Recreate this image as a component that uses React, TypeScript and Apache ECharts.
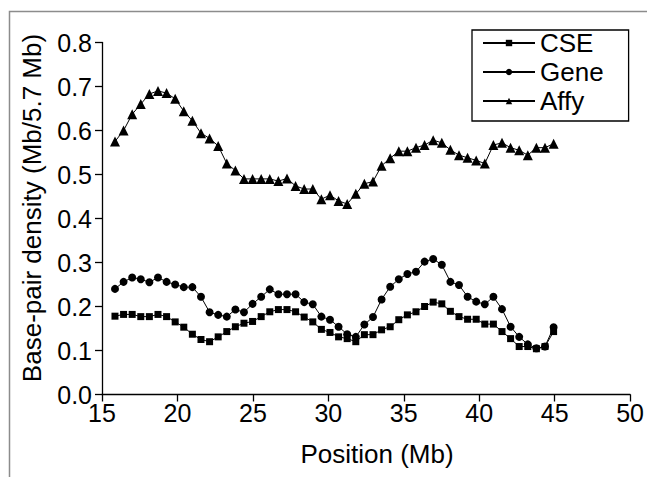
import React, { useEffect, useRef } from "react";
import * as echarts from "echarts";

const positions = [15.86, 16.43, 17.0, 17.57, 18.14, 18.71, 19.28, 19.85, 20.42, 20.99, 21.56, 22.13, 22.7, 23.27, 23.84, 24.41, 24.98, 25.55, 26.12, 26.69, 27.26, 27.83, 28.4, 28.97, 29.54, 30.11, 30.68, 31.25, 31.82, 32.39, 32.96, 33.53, 34.1, 34.67, 35.24, 35.81, 36.38, 36.95, 37.52, 38.09, 38.66, 39.23, 39.8, 40.37, 40.94, 41.51, 42.08, 42.65, 43.22, 43.79, 44.36, 44.93];

const cse = [0.178, 0.182, 0.182, 0.177, 0.177, 0.182, 0.177, 0.165, 0.153, 0.137, 0.125, 0.12, 0.131, 0.143, 0.154, 0.162, 0.166, 0.177, 0.188, 0.193, 0.193, 0.188, 0.176, 0.165, 0.148, 0.141, 0.131, 0.127, 0.12, 0.136, 0.136, 0.147, 0.154, 0.17, 0.181, 0.188, 0.2, 0.21, 0.206, 0.189, 0.177, 0.171, 0.171, 0.16, 0.16, 0.143, 0.127, 0.109, 0.109, 0.104, 0.109, 0.143];

const gene = [0.24, 0.256, 0.266, 0.262, 0.255, 0.266, 0.256, 0.25, 0.244, 0.244, 0.222, 0.187, 0.181, 0.177, 0.193, 0.187, 0.206, 0.222, 0.239, 0.228, 0.228, 0.228, 0.21, 0.205, 0.177, 0.17, 0.154, 0.137, 0.131, 0.159, 0.176, 0.216, 0.245, 0.262, 0.274, 0.279, 0.302, 0.308, 0.295, 0.256, 0.249, 0.222, 0.211, 0.205, 0.222, 0.194, 0.154, 0.131, 0.114, 0.105, 0.109, 0.153];

const affy = [0.575, 0.6, 0.637, 0.66, 0.683, 0.69, 0.685, 0.672, 0.644, 0.622, 0.594, 0.582, 0.565, 0.525, 0.509, 0.49, 0.49, 0.49, 0.49, 0.485, 0.491, 0.474, 0.467, 0.467, 0.444, 0.453, 0.44, 0.433, 0.456, 0.479, 0.484, 0.52, 0.537, 0.553, 0.553, 0.561, 0.567, 0.578, 0.572, 0.556, 0.544, 0.538, 0.532, 0.525, 0.567, 0.572, 0.561, 0.555, 0.544, 0.561, 0.561, 0.57];

const seriesNames = ["CSE", "Gene", "Affy"];
const xTitle = "Position (Mb)";
const yTitle = "Base-pair density (Mb/5.7 Mb)";

const FONT = "'Liberation Sans', Arial, Helvetica, sans-serif";

export default function App() {
  const ref = useRef<HTMLDivElement>(null);
  useEffect(() => {
    if (!ref.current) return;
    const chart = echarts.init(ref.current, undefined, { renderer: "svg" });
    const pairs = (ys: number[]) => positions.map((x, i) => [x, ys[i]]);
    const mk = (name: string, ys: number[], symbol: string, size: number) => ({
      name,
      type: "line",
      data: pairs(ys),
      symbol,
      symbolSize: size,
      showSymbol: true,
      itemStyle: { color: "#000" },
      lineStyle: { color: "#000", width: 1 },
      emphasis: { disabled: true },
    });
    chart.setOption({
      animation: false,
      backgroundColor: "#fff",
      grid: { left: 102, right: 16, top: 42.5, bottom: 82.5, containLabel: false },
      legend: {
        data: seriesNames,
        orient: "vertical",
        left: 472,
        top: 30,
        padding: [0, 25, 7, 10],
        itemWidth: 52,
        itemHeight: 8,
        itemGap: 3,
        borderColor: "#000",
        borderWidth: 1.3,
        textStyle: { fontFamily: FONT, fontSize: 26, color: "#000" },
      },
      xAxis: {
        type: "value",
        min: 15,
        max: 50,
        interval: 5,
        axisLine: { show: true, onZero: false, lineStyle: { color: "#000", width: 1.3 } },
        axisTick: { show: true, inside: false, length: 7, lineStyle: { color: "#000", width: 1.3 } },
        axisLabel: { margin: 6, fontFamily: FONT, fontSize: 25, color: "#000" },
        splitLine: { show: false },
      },
      yAxis: {
        type: "value",
        min: 0,
        max: 0.8,
        interval: 0.1,
        axisLine: { show: true, onZero: false, lineStyle: { color: "#000", width: 1.3 } },
        axisTick: { show: true, inside: false, length: 7, lineStyle: { color: "#000", width: 1.3 } },
        axisLabel: {
          margin: 10,
          fontFamily: FONT,
          fontSize: 25,
          color: "#000",
          formatter: (v: number) => v.toFixed(1),
        },
        splitLine: { show: false },
      },
      graphic: [
        {
          type: "rect",
          shape: { x: 9.5, y: 11.5, width: 700, height: 520 },
          style: { fill: "none", stroke: "#8c8c8c", lineWidth: 1.5 },
          silent: true,
        },
        {
          type: "text",
          x: 32,
          y: 208,
          rotation: Math.PI / 2,
          style: {
            text: yTitle,
            fontFamily: FONT,
            fontSize: 26,
            fill: "#000",
            align: "center",
            verticalAlign: "middle",
          },
        },
        {
          type: "text",
          x: 377,
          y: 454,
          style: {
            text: xTitle,
            fontFamily: FONT,
            fontSize: 26,
            fill: "#000",
            align: "center",
            verticalAlign: "middle",
          },
        },
      ],
      series: [
        mk(seriesNames[0], cse, "rect", 7),
        mk(seriesNames[1], gene, "circle", 8),
        mk(seriesNames[2], affy, "triangle", 10),
      ],
    });
    return () => chart.dispose();
  }, []);
  return (
    <div
      ref={ref}
      style={{ position: "fixed", left: 0, top: 0, width: 647, height: 477 }}
    />
  );
}
